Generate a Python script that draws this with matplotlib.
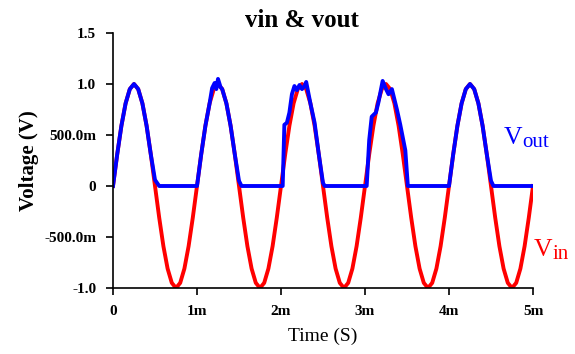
import matplotlib
import matplotlib.pyplot as plt

matplotlib.use("Agg")

plt.rcParams["font.family"] = ["Liberation Serif", "DejaVu Serif"]

# vin sampled every 0.05 ms (time in ms)
vin_t = [i * 0.05 for i in range(101)]
vin_v = [
    0.0, 0.31, 0.59, 0.81, 0.95, 1.0, 0.95, 0.81, 0.59, 0.31,
    0.0, -0.31, -0.59, -0.81, -0.95, -1.0, -0.95, -0.81, -0.59, -0.31,
    0.0, 0.31, 0.59, 0.81, 0.95, 1.0, 0.95, 0.81, 0.59, 0.31,
    0.0, -0.31, -0.59, -0.81, -0.95, -1.0, -0.95, -0.81, -0.59, -0.31,
    0.0, 0.31, 0.59, 0.81, 0.95, 1.0, 0.95, 0.81, 0.59, 0.31,
    0.0, -0.31, -0.59, -0.81, -0.95, -1.0, -0.95, -0.81, -0.59, -0.31,
    0.0, 0.31, 0.59, 0.81, 0.95, 1.0, 0.95, 0.81, 0.59, 0.31,
    0.0, -0.31, -0.59, -0.81, -0.95, -1.0, -0.95, -0.81, -0.59, -0.31,
    0.0, 0.31, 0.59, 0.81, 0.95, 1.0, 0.95, 0.81, 0.59, 0.31,
    0.0, -0.31, -0.59, -0.81, -0.95, -1.0, -0.95, -0.81, -0.59, -0.31,
    0.0,
]

# vout (time in ms)
vout_t = [
    0.0, 0.05, 0.1, 0.15, 0.2, 0.25, 0.3, 0.35, 0.4, 0.45, 0.5, 0.55,
    1.0, 1.05, 1.1, 1.15, 1.18, 1.21, 1.23, 1.25, 1.28, 1.3, 1.35, 1.4, 1.45, 1.5, 1.53,
    2.02, 2.04, 2.07, 2.1, 2.13, 2.16, 2.19, 2.22, 2.25, 2.28, 2.3, 2.35, 2.4, 2.45, 2.5, 2.52,
    3.02, 3.05, 3.08, 3.13, 3.16, 3.21, 3.25, 3.28, 3.32, 3.38, 3.42, 3.48, 3.51,
    4.0, 4.05, 4.1, 4.15, 4.2, 4.25, 4.3, 4.35, 4.4, 4.45, 4.5, 4.53,
    5.0,
]
vout_v = [
    0.0, 0.31, 0.59, 0.81, 0.95, 1.0, 0.95, 0.81, 0.59, 0.31, 0.06, 0.0,
    0.0, 0.31, 0.59, 0.81, 0.96, 1.01, 0.95, 1.05, 0.97, 0.95, 0.81, 0.59, 0.31, 0.05, 0.0,
    0.0, 0.6, 0.62, 0.72, 0.9, 0.98, 0.94, 0.99, 0.95, 0.98, 1.02, 0.81, 0.62, 0.31, 0.03, 0.0,
    0.0, 0.45, 0.68, 0.72, 0.82, 1.03, 0.95, 0.9, 0.95, 0.75, 0.6, 0.35, 0.0,
    0.0, 0.31, 0.59, 0.81, 0.95, 1.0, 0.95, 0.81, 0.59, 0.31, 0.05, 0.0,
    0.0,
]

x_ticks = [0, 1, 2, 3, 4, 5]
x_labels = ["0", "1m", "2m", "3m", "4m", "5m"]
y_ticks = [-1.0, -0.5, 0.0, 0.5, 1.0, 1.5]
y_labels = ["-1.0", "-500.0m", "0", "500.0m", "1.0", "1.5"]

W, H = 575, 354
fig = plt.figure(figsize=(W / 100, H / 100), dpi=100)
ax = fig.add_axes([113 / W, 1 - 288 / H, 420 / W, 255 / H])

ax.plot(vin_t, vin_v, color="#ff0000", linewidth=2.8, solid_joinstyle="round")
ax.plot(vout_t, vout_v, color="#0000ff", linewidth=2.8, solid_joinstyle="round")

ax.set_xlim(0, 5)
ax.set_ylim(-1.0, 1.5)
ax.set_xticks(x_ticks)
ax.set_xticklabels(x_labels, fontweight="bold", fontsize=11)
ax.set_yticks(y_ticks)
ax.set_yticklabels(y_labels, fontweight="bold", fontsize=11)
ax.tick_params(direction="out", length=5, width=1.2, pad=7)

for side in ("top", "right"):
    ax.spines[side].set_visible(False)
for side in ("left", "bottom"):
    ax.spines[side].set_linewidth(1.2)

ax.set_xlabel("Time (S)", fontsize=14, labelpad=7)
ax.set_ylabel("Voltage (V)", fontweight="bold", fontsize=15, labelpad=4)

# title sits a bit left of the axes centre in the original
fig.text(302 / W, 1 - 27 / H, "vin & vout", fontweight="bold", fontsize=18,
         ha="center", va="baseline")

# series labels: big V, subscript placed right after it and slightly lower
for x0, y0, sub, color in [(504, 144, "out", "#0000ff"), (534, 256, "in", "#ff0000")]:
    v = fig.text(x0 / W, 1 - y0 / H, "V", color=color, fontsize=18.5, va="baseline")
    fig.add_artist(matplotlib.text.Annotation(
        sub, xy=(1, 0), xycoords=v, xytext=(0, -2.5), textcoords="offset points",
        color=color, fontsize=15, ha="left", va="bottom",
    ))

fig.savefig("out.png", dpi=100)
